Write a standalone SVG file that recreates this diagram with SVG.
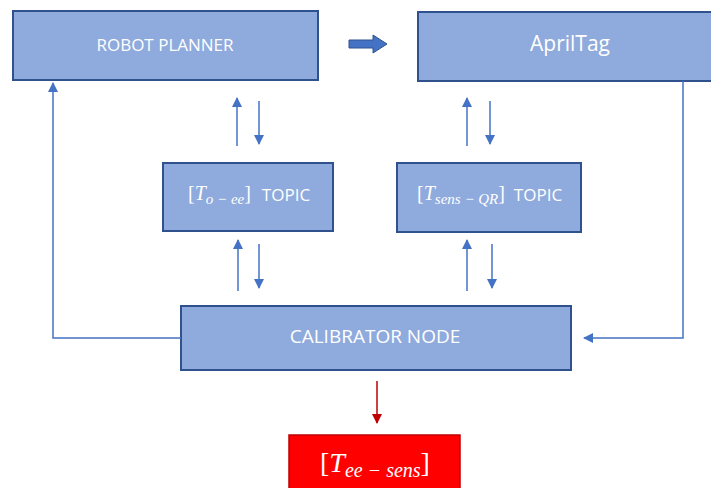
<svg xmlns="http://www.w3.org/2000/svg" width="711" height="488" viewBox="0 0 711 488">
<style>
.box{fill:#8faadc;stroke:#2f528f;stroke-width:2}
.lbl{font-family:"Open Sans","Liberation Sans",sans-serif;fill:#fff;font-size:17px;text-anchor:middle;dominant-baseline:central}
.math{font-family:"Liberation Serif","DejaVu Serif",serif;fill:#fff}
.c{fill:none;stroke:#4472c4;stroke-width:1.5}
</style>
<defs>
<marker id="ah" viewBox="0 0 10 10" refX="9" refY="5" markerWidth="11" markerHeight="10" markerUnits="userSpaceOnUse" orient="auto"><path d="M0,0L10,5L0,10z" fill="#4472c4"/></marker>
<marker id="ahr" viewBox="0 0 10 10" refX="9" refY="5" markerWidth="11" markerHeight="10" markerUnits="userSpaceOnUse" orient="auto"><path d="M0,0L10,5L0,10z" fill="#c00000"/></marker>
</defs>
<g id="robot-planner"><rect class="box" x="13" y="11" width="305" height="69"/><text class="lbl" x="165" y="44">ROBOT PLANNER</text></g>
<g id="apriltag"><rect class="box" x="418" y="12" width="294" height="69"/><text class="lbl" x="570" y="43" style="font-size:21px">AprilTag</text></g>
<g id="topic-o-ee"><rect class="box" x="163" y="163" width="170" height="68"/>
<text class="math" x="188" y="200" font-size="20">[<tspan font-style="italic">T</tspan><tspan font-style="italic" font-size="15" dy="4">o − ee</tspan><tspan dy="-4">]</tspan></text>
<text class="lbl" x="286" y="194">TOPIC</text></g>
<g id="topic-sens-qr"><rect class="box" x="397" y="163" width="184" height="69"/>
<text class="math" x="417" y="200" font-size="20">[<tspan font-style="italic">T</tspan><tspan font-style="italic" font-size="15" dy="4">sens − QR</tspan><tspan dy="-4">]</tspan></text>
<text class="lbl" x="538" y="194">TOPIC</text></g>
<g id="calibrator-node"><rect class="box" x="181" y="306" width="390" height="64"/><text class="lbl" x="375" y="336" style="font-size:19px">CALIBRATOR NODE</text></g>
<g id="t-ee-sens"><rect x="289" y="435" width="171" height="55" fill="#ff0000" stroke="#c00000" stroke-width="1.5"/>
<text class="math" x="320" y="472" font-size="28">[<tspan font-style="italic">T</tspan><tspan font-style="italic" font-size="20" dy="5">ee − sens</tspan><tspan dy="-5">]</tspan></text></g>
<g id="connectors">
<path d="M349,40H373V35L387,44L373,53V48H349z" fill="#4472c4" stroke="#2f528f" stroke-width="1"/>
<path class="c" d="M237,146V98" marker-end="url(#ah)"/>
<path class="c" d="M259,101V144" marker-end="url(#ah)"/>
<path class="c" d="M238,291V240" marker-end="url(#ah)"/>
<path class="c" d="M259,244V288" marker-end="url(#ah)"/>
<path class="c" d="M467,146V98" marker-end="url(#ah)"/>
<path class="c" d="M490,101V144" marker-end="url(#ah)"/>
<path class="c" d="M467,291V240" marker-end="url(#ah)"/>
<path class="c" d="M492,244V288" marker-end="url(#ah)"/>
<path class="c" d="M181,338H53V83" marker-end="url(#ah)" stroke-width="1.2"/>
<path class="c" d="M683,81V338H584" marker-end="url(#ah)" stroke-width="1.2"/>
<path d="M377,381V423" stroke="#c00000" stroke-width="1.5" fill="none" marker-end="url(#ahr)"/>
</g>
</svg>
